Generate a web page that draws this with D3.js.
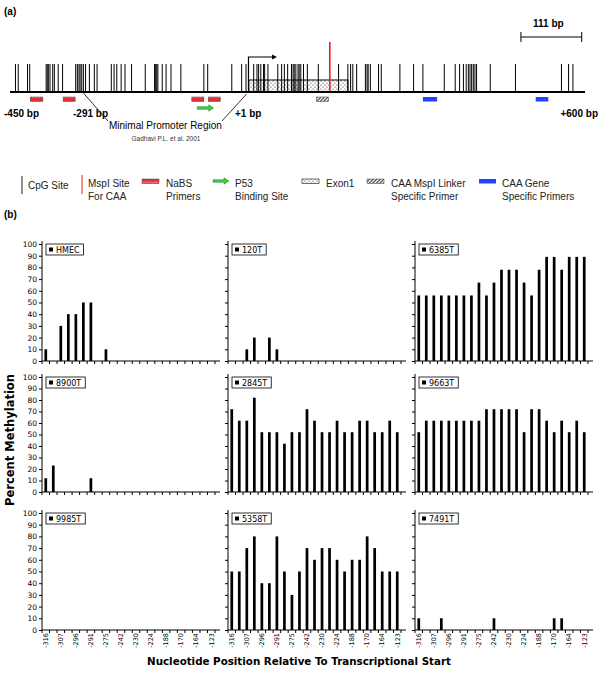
<!DOCTYPE html>
<html><head><meta charset="utf-8">
<script src="https://cdn.jsdelivr.net/npm/d3@7/dist/d3.min.js"></script>
<style>body{margin:0;background:#fff}svg{display:block}</style>
</head><body><svg id="c" width="600" height="673"></svg>
<script>
// ================= DATA =================
// Panel (a): schematic map positions (bp)
const cpgSites = [-440,-435,-418,-414,-384,-382,-380,-377,-372,-369,-362,-354,-330,-327,-324,-322,-319,-316,-312,-305,-296,-291,-265,-260,-255,-247,-240,-228,-203,-186,-184,-182,-180,-172,-165,-156,-138,-96,-89,-45,-27,-19,-5,1,4,8,13,15,21,39,46,51,57,64,67,69,72,76,78,81,86,93,113,150,167,172,176,183,199,202,204,208,223,228,262,287,304,343,363,371,378,383,387,390,393,396,399,402,427,473,557,570,578];
const mspISite = 134;
const exon1 = [-14, 167];
const tss = [-14.5, 37.5];
const nabsPrimers = [[-413,-390],[-353,-331],[-118,-96],[-88,-66]];
const p53Site = [-108, -78];
const caaLinkerPrimer = [[110,132]];
const caaGenePrimers = [[304,330],[510,533]];
const scaleBar = [483, 594];
const scaleBarLabel = "111 bp";
const mapLabels = ["-450 bp","-291 bp","+1 bp","+600 bp"];
const legendA = [
  {key:"cpg",  lines:["CpG Site"]},
  {key:"mspi", lines:["MspI Site","For CAA"]},
  {key:"nabs", lines:["NaBS","Primers"]},
  {key:"p53",  lines:["P53","Binding Site"]},
  {key:"exon", lines:["Exon1"]},
  {key:"link", lines:["CAA MspI Linker","Specific Primer"]},
  {key:"gene", lines:["CAA Gene","Specific Primers"]}
];

// Panel (b): 23 CpG positions, labels on every other one
const positions = d3.range(23);
const tickLabels = ["-316","-307","-296","-291","-275","-242","-230","-224","-188","-170","-164","-123"];
const samples = ["HMEC","120T","6385T","8900T","2845T","9663T","9985T","5358T","7491T"];
const hmec  = [10,0,30,40,40,50,50,0,10,0,0,0,0,0,0,0,0,0,0,0,0,0,0];
const t120  = [0,0,10,20,0,20,10,0,0,0,0,0,0,0,0,0,0,0,0,0,0,0,0];
const t6385 = [56,56,56,56,56,56,56,56,67,56,67,78,78,78,67,56,78,89,89,78,89,89,89];
const t8900 = [12,23,0,0,0,0,12,0,0,0,0,0,0,0,0,0,0,0,0,0,0,0,0];
const t2845 = [72,62,62,82,52,52,52,42,52,52,72,62,52,52,62,52,52,62,62,52,52,62,52];
const t9663 = [52,62,62,62,62,62,62,62,62,72,72,72,72,72,52,72,72,62,52,62,52,62,52];
const t9985 = [0,0,0,0,0,0,0,0,0,0,0,0,0,0,0,0,0,0,0,0,0,0,0];
const t5358 = [50,50,70,80,40,40,80,50,30,50,70,60,70,70,60,50,60,60,80,70,50,50,50];
const t7491 = [10,0,0,10,0,0,0,0,0,0,10,0,0,0,0,0,0,0,10,10,0,0,0];
const series = [hmec,t120,t6385,t8900,t2845,t9663,t9985,t5358,t7491];
const yTicks = [0,10,20,30,40,50,60,70,80,90,100];

// ================= DRAW =================
const svg = d3.select("#c");
const AR = "'Liberation Sans', Arial, sans-serif";
const DV = "'DejaVu Sans', Verdana, sans-serif";
const defs = svg.append("defs");
const pd = defs.append("pattern").attr("id","dots").attr("patternUnits","userSpaceOnUse").attr("width",4).attr("height",4);
pd.append("rect").attr("width",4).attr("height",4).attr("fill","#fff");
pd.append("circle").attr("cx",1).attr("cy",1).attr("r",0.6).attr("fill","#222");
pd.append("circle").attr("cx",3).attr("cy",3).attr("r",0.6).attr("fill","#222");
const ph = defs.append("pattern").attr("id","hatch").attr("patternUnits","userSpaceOnUse").attr("width",2.5).attr("height",2.5).attr("patternTransform","rotate(45)");
ph.append("rect").attr("width",2.5).attr("height",2.5).attr("fill","#fff");
ph.append("line").attr("x1",0.6).attr("y1",0).attr("x2",0.6).attr("y2",2.5).attr("stroke","#333").attr("stroke-width",1.1);
const pn = defs.append("pattern").attr("id","nabs").attr("patternUnits","userSpaceOnUse").attr("width",3).attr("height",5);
pn.append("rect").attr("width",3).attr("height",5).attr("fill","#e0303c");
pn.append("path").attr("d","M0,3 L1.5,1.5 L3,3").attr("stroke","#fbb").attr("stroke-width",0.6).attr("fill","none");

// ---- Panel (a) ----
const gA = svg.append("g");
gA.append("text").attr("x",4).attr("y",15).attr("font-family",AR).attr("font-weight","bold").attr("font-size",10).text("(a)");
const xa = d3.scaleLinear().domain([-450,600]).range([10,585]);
const baseY = 92;

gA.append("rect").attr("x",xa(exon1[0])).attr("y",80).attr("width",xa(exon1[1])-xa(exon1[0])).attr("height",baseY-80)
  .attr("fill","url(#dots)").attr("stroke","#000").attr("stroke-width",1);
gA.selectAll("line.cpg").data(cpgSites).join("line").attr("class","cpg")
  .attr("x1",d=>xa(d)).attr("x2",d=>xa(d)).attr("y1",64).attr("y2",baseY).attr("stroke","#000").attr("stroke-width",1);
gA.append("line").attr("x1",xa(mspISite)).attr("x2",xa(mspISite)).attr("y1",42).attr("y2",baseY).attr("stroke","#e8202a").attr("stroke-width",1.6);
gA.append("line").attr("x1",xa(-450)).attr("x2",xa(600)).attr("y1",baseY).attr("y2",baseY).attr("stroke","#000").attr("stroke-width",2);
// TSS arrow
gA.append("path").attr("d",`M${xa(tss[0])},${baseY}V57H${xa(tss[1])-4}`).attr("fill","none").attr("stroke","#000").attr("stroke-width",1.2);
gA.append("path").attr("d",`M${xa(tss[1])},57l-5,-2.5v5z`).attr("fill","#000");
// primers
const pY = 97, pH = 4.5;
gA.selectAll("rect.nabs").data(nabsPrimers).join("rect").attr("class","nabs")
  .attr("x",d=>xa(d[0])).attr("y",pY).attr("width",d=>xa(d[1])-xa(d[0])).attr("height",pH)
  .attr("fill","url(#nabs)").attr("stroke","#444").attr("stroke-width",0.5);
gA.selectAll("rect.link").data(caaLinkerPrimer).join("rect").attr("class","link")
  .attr("x",d=>xa(d[0])).attr("y",pY).attr("width",d=>xa(d[1])-xa(d[0])).attr("height",pH)
  .attr("fill","url(#hatch)").attr("stroke","#444").attr("stroke-width",0.5);
gA.selectAll("rect.gene").data(caaGenePrimers).join("rect").attr("class","gene")
  .attr("x",d=>xa(d[0])).attr("y",pY).attr("width",d=>xa(d[1])-xa(d[0])).attr("height",pH)
  .attr("fill","#2244ff");
function greenArrow(g, x0, x1, y){
  g.append("path").attr("d",`M${x0},${y-1.3}H${x1-5}V${y-3.2}L${x1},${y}L${x1-5},${y+3.2}V${y+1.3}H${x0}Z`)
    .attr("fill","#3ccf3c").attr("stroke","#2a7a2a").attr("stroke-width",0.5);
}
greenArrow(gA, xa(p53Site[0]), xa(p53Site[1]), 108);
// scale bar
gA.append("path").attr("d",`M${xa(scaleBar[0])},32V42M${xa(scaleBar[0])},37H${xa(scaleBar[1])}M${xa(scaleBar[1])},32V42`)
  .attr("stroke","#000").attr("stroke-width",1).attr("fill","none");
gA.append("text").attr("x",(xa(scaleBar[0])+xa(scaleBar[1]))/2 - 3).attr("y",27).attr("text-anchor","middle")
  .attr("font-family",AR).attr("font-weight","bold").attr("font-size",10).text(scaleBarLabel);
// bp labels
const lblPos = [{x:4,a:"start"},{x:73,a:"start"},{x:235,a:"start"},{x:598,a:"end"}];
mapLabels.forEach((t,i)=>{
  gA.append("text").attr("x",lblPos[i].x).attr("y",117).attr("text-anchor",lblPos[i].a)
    .attr("font-family",AR).attr("font-weight","bold").attr("font-size",10).text(t);
});
// minimal promoter
gA.append("text").attr("x",109).attr("y",129).attr("font-family",AR).attr("font-size",10).text("Minimal Promoter Region");
gA.append("text").attr("x",166).attr("y",141).attr("text-anchor","middle").attr("font-family",AR).attr("font-size",6.5).attr("fill","#333").text("Gadhavi P.L. et al. 2001");
gA.append("path").attr("d",`M108,121L${xa(-316)},93M222,121L${xa(-18)},94`).attr("stroke","#000").attr("stroke-width",0.8).attr("fill","none");

// legend (a)
const legX = [22,82,142,213,302,367,479];
const legTextX = [28,88,166,235,326,391,502];
legendA.forEach((d,i)=>{
  const g = gA.append("g");
  const x = legX[i];
  if(d.key==="cpg") g.append("line").attr("x1",x).attr("x2",x).attr("y1",176).attr("y2",194).attr("stroke","#444").attr("stroke-width",1.2);
  if(d.key==="mspi") g.append("line").attr("x1",x).attr("x2",x).attr("y1",175).attr("y2",194).attr("stroke","#e8202a").attr("stroke-width",1);
  if(d.key==="nabs") g.append("rect").attr("x",x).attr("y",179).attr("width",17).attr("height",4.5).attr("fill","url(#nabs)").attr("stroke","#444").attr("stroke-width",0.5);
  if(d.key==="p53") greenArrow(g, x, x+16, 181);
  if(d.key==="exon") g.append("rect").attr("x",x).attr("y",179).attr("width",17).attr("height",4.5).attr("fill","url(#dots)").attr("stroke","#333").attr("stroke-width",0.7);
  if(d.key==="link") g.append("rect").attr("x",x).attr("y",179).attr("width",17).attr("height",4.5).attr("fill","url(#hatch)").attr("stroke","#444").attr("stroke-width",0.5);
  if(d.key==="gene") g.append("rect").attr("x",x).attr("y",179).attr("width",17).attr("height",4.5).attr("fill","#2244ff");
  const y0 = d.lines.length===1 ? (d.key==="cpg"?188.5:186.5) : 186.5;
  d.lines.forEach((t,j)=>{
    g.append("text").attr("x",legTextX[i]).attr("y",y0+j*13).attr("font-family",AR).attr("font-size",10).attr("fill","#222").text(t);
  });
});

// ---- Panel (b) ----
svg.append("text").attr("x",4).attr("y",218).attr("font-family",AR).attr("font-weight","bold").attr("font-size",10).text("(b)");
const cols = [42, 228, 415];
const rows = [{top:244,bottom:361},{top:377,bottom:492},{top:513,bottom:630}];
const W = 173, axisExt = 178;

samples.forEach((name,k)=>{
  const r = Math.floor(k/3), c = k%3;
  const g = svg.append("g");
  const x = d3.scaleBand().domain(positions).range([cols[c], cols[c]+W]).paddingInner(0.64).paddingOuter(0.32);
  const y = d3.scaleLinear().domain([0,100]).range([rows[r].bottom, rows[r].top]);
  const vals = series[k];
  // bars
  g.selectAll("rect.bar").data(positions.filter(i=>vals[i]>0)).join("rect").attr("class","bar")
    .attr("x",i=>x(i)).attr("width",x.bandwidth()).attr("y",i=>y(vals[i])).attr("height",i=>y(0)-y(vals[i])).attr("fill","#000");
  // y axis
  const ya = g.append("g").attr("transform",`translate(${cols[c]},0)`)
    .call(d3.axisLeft(y).tickValues(yTicks).tickSize(3).tickSizeOuter(0).tickFormat(c===0?d3.format("d"):()=>""));
  ya.select(".domain").attr("d",`M0,${y(0)}V${y(100)-3}`).attr("stroke","#000");
  ya.selectAll("text").attr("font-family",DV).attr("font-size",7.5).attr("fill","#000").attr("x",-5);
  // x axis
  const xg = g.append("g").attr("transform",`translate(0,${y(0)})`)
    .call(d3.axisBottom(x).tickSize(0).tickSizeOuter(0).tickFormat(i => (r===2 && i%2===0) ? tickLabels[i/2] : ""));
  xg.select(".domain").attr("d",`M${cols[c]},0H${cols[c]+axisExt}`).attr("stroke","#000");
  xg.selectAll("text").attr("transform","rotate(-90)").attr("x",-3).attr("y",0).attr("dy","0.35em")
    .style("text-anchor","end").attr("font-family",DV).attr("font-size",6.5).attr("fill","#000");
  const stepOff = x.step()*x.paddingInner()/2;
  xg.selectAll("line.bt").data(d3.range(24)).join("line").attr("class","bt")
    .attr("x1",i=> i<23 ? x(i)-stepOff : x(22)+x.bandwidth()+stepOff).attr("x2",i=> i<23 ? x(i)-stepOff : x(22)+x.bandwidth()+stepOff)
    .attr("y1",0).attr("y2",3).attr("stroke","#000");
  // legend box
  const lg = g.append("g").attr("transform",`translate(${cols[c]+4},${rows[r].top})`);
  const box = lg.append("rect").attr("x",0).attr("y",0).attr("height",11).attr("fill","#fff").attr("stroke","#000").attr("stroke-width",0.8);
  lg.append("rect").attr("x",3).attr("y",3.5).attr("width",4).attr("height",4).attr("fill","#000");
  const tx = lg.append("text").attr("x",10).attr("y",8.5).attr("font-family",DV).attr("font-size",8).attr("fill","#000").text(name);
  box.attr("width", tx.node().getComputedTextLength()+14);
});

// axis titles
svg.append("text").attr("transform","translate(14,440) rotate(-90)").attr("text-anchor","middle")
  .attr("font-family",DV).attr("font-weight","bold").attr("font-size",11.5).text("Percent Methylation");
svg.append("text").attr("x",299).attr("y",665).attr("text-anchor","middle")
  .attr("font-family",DV).attr("font-weight","bold").attr("font-size",10.3).text("Nucleotide Position Relative To Transcriptional Start");
</script></body></html>
